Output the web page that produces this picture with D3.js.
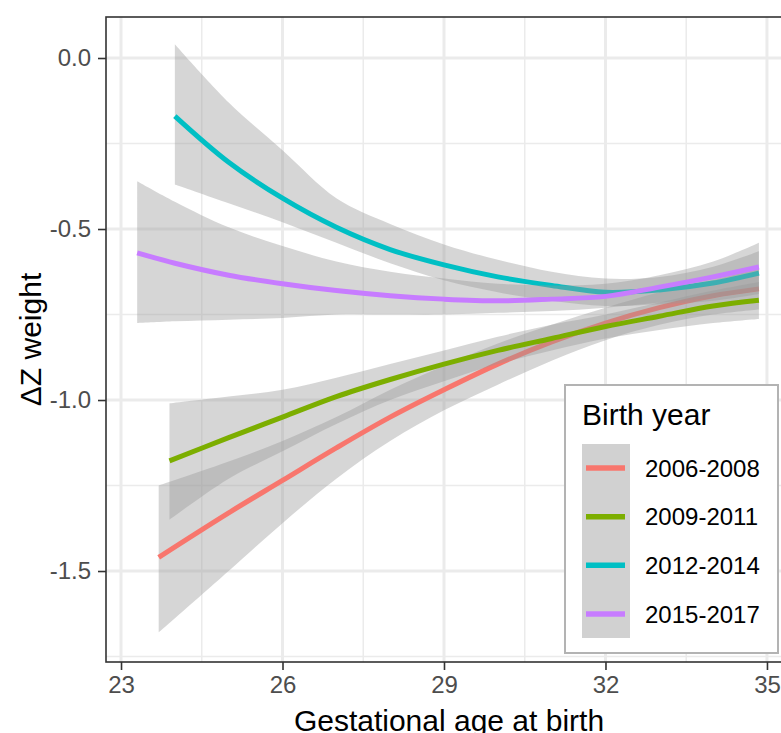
<!DOCTYPE html>
<html>
<head>
<meta charset="utf-8">
<script src="https://cdn.jsdelivr.net/npm/d3@7"></script>
<style>
  body { margin: 0; background: #fff; }
  svg { display: block; font-family: "Liberation Sans", Arial, sans-serif; }
</style>
</head>
<body>
<svg id="chart" width="781" height="733"></svg>
<script>
// birth year groups, in draw order
var groups = ["2006-2008", "2009-2011", "2012-2014", "2015-2017"];

// gestational age (weeks) and smoothed dZ weight with its band, per group
var age_0608 = [23.7, 25, 26, 27, 28, 29, 30, 31, 32, 33, 34, 34.85];
var fit_0608 = [-1.46, -1.33, -1.235, -1.14, -1.05, -0.97, -0.895, -0.83, -0.775, -0.73, -0.695, -0.675];
var low_0608 = [-1.68, -1.50, -1.36, -1.23, -1.12, -1.03, -0.955, -0.885, -0.825, -0.78, -0.75, -0.735];
var up_0608 = [-1.25, -1.18, -1.12, -1.05, -0.97, -0.90, -0.835, -0.78, -0.73, -0.685, -0.65, -0.615];

var age_0911 = [23.9, 25, 26, 27, 28, 29, 30, 31, 32, 33, 34, 34.85];
var fit_0911 = [-1.178, -1.11, -1.05, -0.99, -0.94, -0.895, -0.855, -0.82, -0.785, -0.755, -0.725, -0.708];
var low_0911 = [-1.35, -1.23, -1.15, -1.07, -1.0, -0.945, -0.895, -0.855, -0.82, -0.795, -0.775, -0.763];
var up_0911 = [-1.01, -0.99, -0.97, -0.935, -0.895, -0.855, -0.815, -0.78, -0.75, -0.715, -0.68, -0.655];

var age_1214 = [24, 25, 26, 27, 28, 29, 30, 31, 32, 33, 34, 34.85];
var fit_1214 = [-0.17, -0.305, -0.41, -0.495, -0.56, -0.605, -0.64, -0.665, -0.685, -0.678, -0.658, -0.629];
var low_1214 = [-0.37, -0.425, -0.48, -0.54, -0.60, -0.65, -0.685, -0.71, -0.725, -0.72, -0.71, -0.69];
var up_1214 = [0.04, -0.13, -0.27, -0.41, -0.485, -0.545, -0.59, -0.625, -0.645, -0.64, -0.61, -0.565];

var age_1517 = [23.3, 24, 25, 26, 27, 28, 29, 30, 31, 32, 33, 34, 34.85];
var fit_1517 = [-0.57, -0.60, -0.635, -0.66, -0.68, -0.695, -0.705, -0.71, -0.705, -0.697, -0.67, -0.64, -0.611];
var low_1517 = [-0.775, -0.77, -0.765, -0.76, -0.75, -0.75, -0.75, -0.745, -0.74, -0.73, -0.715, -0.7, -0.68];
var up_1517 = [-0.36, -0.42, -0.495, -0.55, -0.595, -0.625, -0.645, -0.66, -0.665, -0.66, -0.635, -0.595, -0.54];

var xTicks = [23, 26, 29, 32, 35];
var xMinor = [24.5, 27.5, 30.5, 33.5];
var yTicks = [0, -0.5, -1, -1.5];
var yTickLabels = ["0.0", "-0.5", "-1.0", "-1.5"];
var yMinor = [-0.25, -0.75, -1.25, -1.75];

var colors = ["#F8766D", "#7CAE00", "#00BFC4", "#C77CFF"];

function makeSeries(ages, fit, low, up) {
    var rows = [];
    for (var i = 0; i < ages.length; i++) {
        rows.push({ x: ages[i], y: fit[i], lo: low[i], hi: up[i] });
    }
    return rows;
}

var series = [
    makeSeries(age_0608, fit_0608, low_0608, up_0608),
    makeSeries(age_0911, fit_0911, low_0911, up_0911),
    makeSeries(age_1214, fit_1214, low_1214, up_1214),
    makeSeries(age_1517, fit_1517, low_1517, up_1517)
];

var panelLeft = 106, panelTop = 17, panelW = 686, panelH = 645;

var x = d3.scaleLinear().domain([22.721, 35.465]).range([panelLeft, panelLeft + panelW]);
var y = d3.scaleLinear().domain([0.1199, -1.766]).range([panelTop, panelTop + panelH]);

var svg = d3.select("#chart");

svg.append("defs").append("clipPath").attr("id", "panel")
  .append("rect").attr("x", panelLeft).attr("y", panelTop).attr("width", panelW).attr("height", panelH);

var panel = svg.append("g").attr("clip-path", "url(#panel)");

panel.append("rect").attr("x", panelLeft).attr("y", panelTop).attr("width", panelW).attr("height", panelH)
  .attr("fill", "#fff");

// grid
panel.selectAll(".xminor").data(xMinor).enter().append("line")
  .attr("x1", function (d) { return x(d); }).attr("x2", function (d) { return x(d); })
  .attr("y1", panelTop).attr("y2", panelTop + panelH)
  .attr("stroke", "#ebebeb").attr("stroke-width", 1.5);
panel.selectAll(".yminor").data(yMinor).enter().append("line")
  .attr("y1", function (d) { return y(d); }).attr("y2", function (d) { return y(d); })
  .attr("x1", panelLeft).attr("x2", panelLeft + panelW)
  .attr("stroke", "#ebebeb").attr("stroke-width", 1.5);
panel.selectAll(".xmajor").data(xTicks).enter().append("line")
  .attr("x1", function (d) { return x(d); }).attr("x2", function (d) { return x(d); })
  .attr("y1", panelTop).attr("y2", panelTop + panelH)
  .attr("stroke", "#ebebeb").attr("stroke-width", 3);
panel.selectAll(".ymajor").data(yTicks).enter().append("line")
  .attr("y1", function (d) { return y(d); }).attr("y2", function (d) { return y(d); })
  .attr("x1", panelLeft).attr("x2", panelLeft + panelW)
  .attr("stroke", "#ebebeb").attr("stroke-width", 3);

var band = d3.area()
  .x(function (d) { return x(d.x); })
  .y0(function (d) { return y(d.lo); })
  .y1(function (d) { return y(d.hi); })
  .curve(d3.curveCatmullRom);

var fitLine = d3.line()
  .x(function (d) { return x(d.x); })
  .y(function (d) { return y(d.y); })
  .curve(d3.curveCatmullRom);

// each group: band first, then its line (later bands cover earlier lines)
for (var g = 0; g < series.length; g++) {
    panel.append("path").datum(series[g])
      .attr("d", band)
      .attr("fill", "#999999").attr("fill-opacity", 0.4);
    panel.append("path").datum(series[g])
      .attr("d", fitLine)
      .attr("fill", "none")
      .attr("stroke", colors[g]).attr("stroke-width", 5);
}

// panel border
svg.append("rect").attr("x", panelLeft).attr("y", panelTop).attr("width", panelW).attr("height", panelH)
  .attr("fill", "none").attr("stroke", "#333333").attr("stroke-width", 1.6);

// axes
var xAxis = d3.axisBottom(x).tickValues(xTicks).tickSize(8).tickPadding(6)
  .tickFormat(d3.format("d"));
var gx = svg.append("g").attr("transform", "translate(0," + (panelTop + panelH) + ")").call(xAxis);
gx.select(".domain").remove();
gx.selectAll("line").attr("stroke", "#333333").attr("stroke-width", 1.6);
gx.selectAll("text").attr("fill", "#4d4d4d").style("font-size", "24px")
  .style("font-family", "Liberation Sans, Arial, sans-serif");

var yAxis = d3.axisLeft(y).tickValues(yTicks).tickSize(8).tickPadding(7)
  .tickFormat(function (d, i) { return yTickLabels[i]; });
var gy = svg.append("g").attr("transform", "translate(" + panelLeft + ",0)").call(yAxis);
gy.select(".domain").remove();
gy.selectAll("line").attr("stroke", "#333333").attr("stroke-width", 1.6);
gy.selectAll("text").attr("fill", "#4d4d4d").style("font-size", "24px")
  .style("font-family", "Liberation Sans, Arial, sans-serif");

svg.append("text")
  .attr("x", panelLeft + panelW / 2).attr("y", 731)
  .attr("text-anchor", "middle")
  .style("font-size", "30px").attr("fill", "#000")
  .text("Gestational age at birth");

svg.append("text")
  .attr("transform", "translate(41," + (panelTop + panelH / 2) + ") rotate(-90)")
  .attr("text-anchor", "middle")
  .style("font-size", "30px").attr("fill", "#000")
  .text("\u0394Z weight");

// legend
var legend = svg.append("g");
legend.append("rect").attr("x", 565).attr("y", 385).attr("width", 213).attr("height", 268)
  .attr("fill", "#fff").attr("stroke", "#b3b3b3").attr("stroke-width", 2);
legend.append("text").attr("x", 582).attr("y", 425)
  .style("font-size", "30px").attr("fill", "#000").text("Birth year");

var keyY = d3.scalePoint().domain(groups).range([468, 614]);
legend.append("rect").attr("x", 582).attr("y", 444).attr("width", 48).attr("height", 194)
  .attr("fill", "#999999").attr("fill-opacity", 0.45);
legend.selectAll(".key").data(groups).enter().append("line")
  .attr("x1", 586).attr("x2", 625)
  .attr("y1", function (d) { return keyY(d); }).attr("y2", function (d) { return keyY(d); })
  .attr("stroke", function (d, i) { return colors[i]; }).attr("stroke-width", 5.5);
legend.selectAll(".lab").data(groups).enter().append("text")
  .attr("x", 645).attr("y", function (d) { return keyY(d); }).attr("dy", "0.36em")
  .style("font-size", "24px").attr("fill", "#000")
  .text(function (d) { return d; });
</script>
</body>
</html>
